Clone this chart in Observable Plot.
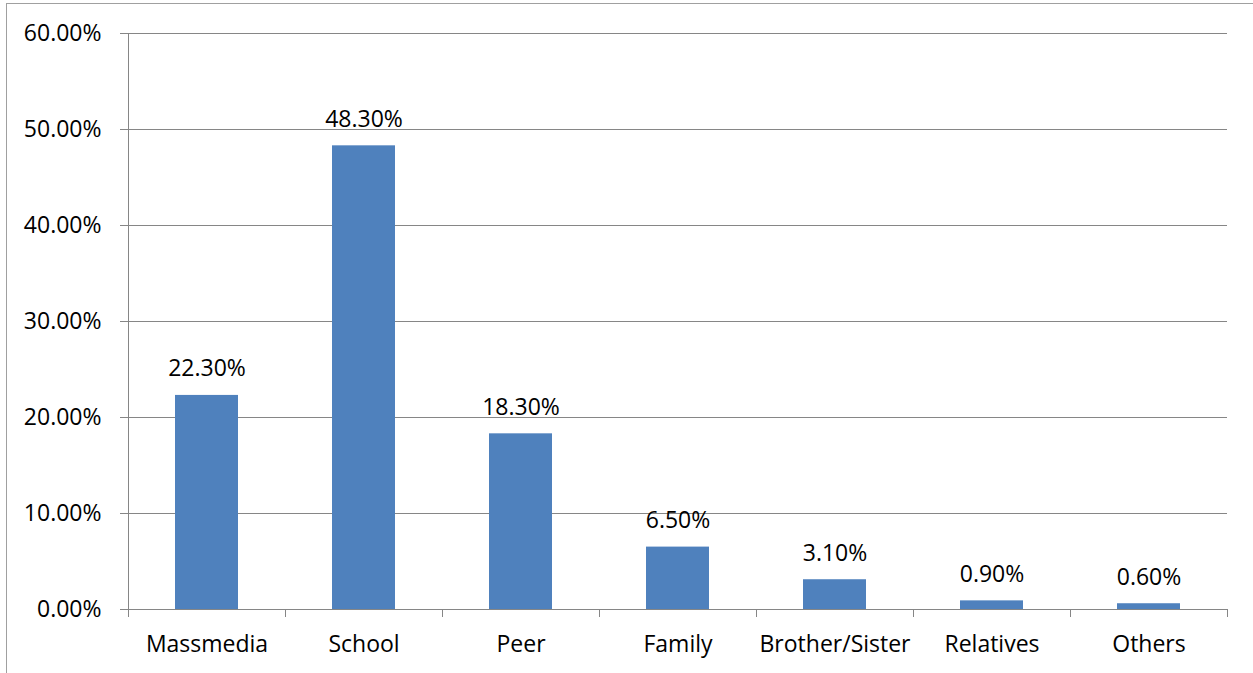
<!DOCTYPE html>
<html>
<head>
<meta charset="utf-8">
<script src="https://cdn.jsdelivr.net/npm/d3@7"></script>
<script src="https://cdn.jsdelivr.net/npm/@observablehq/plot@0.6"></script>
<style>
  html, body { margin: 0; padding: 0; background: white; }
  #wrap { position: relative; width: 1253px; height: 673px; overflow: hidden; }
  #border { position: absolute; left: 6px; top: 3px; width: 1300px; height: 700px;
            border-top: 1px solid #a0a0a0; border-left: 1px solid #a0a0a0; box-sizing: border-box; pointer-events: none; }
  #chart { position: absolute; left: 0; top: 0; }
</style>
</head>
<body>
<div id="wrap"><div id="chart"></div><div id="border"></div></div>
<script>
const categories = ["Massmedia", "School", "Peer", "Family", "Brother/Sister", "Relatives", "Others"];
const values = [0.223, 0.483, 0.183, 0.065, 0.031, 0.009, 0.006];
const valueLabels = ["22.30%", "48.30%", "18.30%", "6.50%", "3.10%", "0.90%", "0.60%"];
const yTicks = [0, 0.1, 0.2, 0.3, 0.4, 0.5, 0.6];
const yTickLabels = ["0.00%", "10.00%", "20.00%", "30.00%", "40.00%", "50.00%", "60.00%"];

const data = categories.map((c, i) => ({category: c, value: values[i], label: valueLabels[i]}));
const axisColor = "#868686";

function bandTicks(index, scales, values, dims) {
  const x = scales.x, y = scales.y;
  const step = typeof x.step === "function" ? x.step() : (dims.width - dims.marginLeft - dims.marginRight) / categories.length;
  const bw = typeof x.bandwidth === "function" ? x.bandwidth() : step * 0.4;
  const g = d3.create("svg:g").attr("stroke", axisColor).attr("stroke-width", 1);
  const bounds = categories.map(c => x(c) + bw / 2 - step / 2);
  bounds.push(x(categories[categories.length - 1]) + bw / 2 + step / 2);
  const y0 = y(0);
  g.selectAll("line.t").data(bounds).join("line")
    .attr("x1", d => Math.round(d) + 0.5).attr("x2", d => Math.round(d) + 0.5)
    .attr("y1", y0).attr("y2", y0 + 8);
  g.append("line")
    .attr("x1", Math.round(bounds[0]) + 0.5).attr("x2", Math.round(bounds[0]) + 0.5)
    .attr("y1", y(yTicks[yTicks.length - 1])).attr("y2", y0);
  return g.node();
}

const plot = Plot.plot({
  width: 1253,
  height: 673,
  marginLeft: 128,
  marginRight: 26,
  marginTop: 33,
  marginBottom: 64,
  style: {fontFamily: "'Open Sans', Lato, sans-serif", fontSize: "23px", color: "black", background: "white"},
  x: {domain: categories, paddingInner: 0.6, paddingOuter: 0.3, label: null},
  y: {domain: [0, 0.6], label: null},
  marks: [
    Plot.gridY(yTicks, {stroke: axisColor, strokeOpacity: 1}),
    Plot.ruleY([0], {stroke: axisColor}),
    Plot.barY(data, {x: "category", y: "value", fill: "#4F81BD"}),
    Plot.text(data, {x: "category", y: "value", text: "label", dy: -19, lineAnchor: "bottom", fill: "black"}),
    Plot.axisY({ticks: yTicks, tickFormat: (d) => yTickLabels[yTicks.indexOf(d)], tickSize: 8, tickPadding: 19, stroke: axisColor, fill: "black", label: null}),
    Plot.axisX({tickSize: 0, tickPadding: 26, fill: "black", label: null}),
    bandTicks
  ]
});
document.getElementById("chart").appendChild(plot);
</script>
</body>
</html>
